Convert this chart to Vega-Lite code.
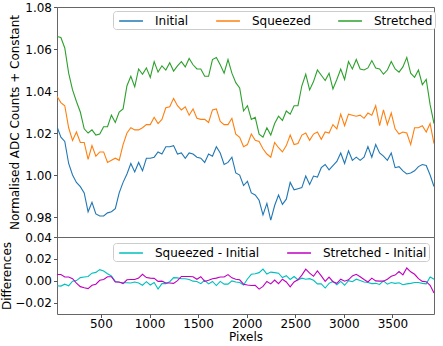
{
"$schema":"https://vega.github.io/schema/vega-lite/v6.json",
"autosize":{"type":"pad"},
"padding":{"left":0,"top":0,"right":0,"bottom":0},
"background":"white",
"spacing":0,
"bounds":"flush",
"config":{
"font":"DejaVu Sans",
"view":{"stroke":"#666666","strokeWidth":1},
"axis":{"grid":false,"domain":false,"labelFont":"DejaVu Sans","labelFontSize":12,"labelColor":"#000000","titleFont":"DejaVu Sans","titleFontSize":12,"titleFontWeight":"normal","titleColor":"#000000","tickColor":"#555555","tickSize":3.5,"labelPadding":2,"titlePadding":3},
"legend":{"orient":"none","direction":"horizontal","symbolType":"M-0.55,0H2.85","symbolSize":196,"symbolStrokeWidth":1.5,"labelFont":"DejaVu Sans","labelFontSize":12,"labelColor":"#000000","fillColor":"#ffffff","strokeColor":"#cccccc","cornerRadius":3,"padding":2,"columnPadding":23,"labelOffset":24}
},
"datasets":{
"top":[
{"px":48,"series":"Initial","value":1.0230},{"px":88,"series":"Initial","value":1.0180},{"px":128,"series":"Initial","value":1.0160},{"px":168,"series":"Initial","value":1.0055},{"px":208,"series":"Initial","value":1.0000},{"px":248,"series":"Initial","value":0.9965},{"px":288,"series":"Initial","value":0.9945},{"px":328,"series":"Initial","value":0.9915},{"px":368,"series":"Initial","value":0.9825},{"px":408,"series":"Initial","value":0.9870},
{"px":448,"series":"Initial","value":0.9815},{"px":488,"series":"Initial","value":0.9805},{"px":528,"series":"Initial","value":0.9805},{"px":568,"series":"Initial","value":0.9820},{"px":608,"series":"Initial","value":0.9825},{"px":648,"series":"Initial","value":0.9840},{"px":688,"series":"Initial","value":0.9915},{"px":728,"series":"Initial","value":0.9965},{"px":768,"series":"Initial","value":1.0005},{"px":808,"series":"Initial","value":1.0055},
{"px":848,"series":"Initial","value":1.0015},{"px":888,"series":"Initial","value":1.0060},{"px":928,"series":"Initial","value":1.0020},{"px":968,"series":"Initial","value":1.0080},{"px":1008,"series":"Initial","value":1.0080},{"px":1048,"series":"Initial","value":1.0085},{"px":1088,"series":"Initial","value":1.0110},{"px":1128,"series":"Initial","value":1.0100},{"px":1168,"series":"Initial","value":1.0135},{"px":1208,"series":"Initial","value":1.0135},
{"px":1248,"series":"Initial","value":1.0140},{"px":1288,"series":"Initial","value":1.0100},{"px":1328,"series":"Initial","value":1.0105},{"px":1368,"series":"Initial","value":1.0080},{"px":1408,"series":"Initial","value":1.0105},{"px":1448,"series":"Initial","value":1.0100},{"px":1488,"series":"Initial","value":1.0085},{"px":1528,"series":"Initial","value":1.0080},{"px":1568,"series":"Initial","value":1.0060},{"px":1608,"series":"Initial","value":1.0100},
{"px":1648,"series":"Initial","value":1.0090},{"px":1688,"series":"Initial","value":1.0135},{"px":1728,"series":"Initial","value":1.0105},{"px":1768,"series":"Initial","value":1.0050},{"px":1808,"series":"Initial","value":1.0060},{"px":1848,"series":"Initial","value":1.0085},{"px":1888,"series":"Initial","value":1.0010},{"px":1928,"series":"Initial","value":1.0000},{"px":1968,"series":"Initial","value":0.9950},{"px":2008,"series":"Initial","value":0.9970},
{"px":2048,"series":"Initial","value":0.9915},{"px":2088,"series":"Initial","value":0.9905},{"px":2128,"series":"Initial","value":0.9880},{"px":2168,"series":"Initial","value":0.9810},{"px":2208,"series":"Initial","value":0.9865},{"px":2248,"series":"Initial","value":0.9785},{"px":2288,"series":"Initial","value":0.9855},{"px":2328,"series":"Initial","value":0.9905},{"px":2368,"series":"Initial","value":0.9860},{"px":2408,"series":"Initial","value":0.9885},
{"px":2448,"series":"Initial","value":0.9965},{"px":2488,"series":"Initial","value":0.9930},{"px":2528,"series":"Initial","value":0.9935},{"px":2568,"series":"Initial","value":0.9940},{"px":2608,"series":"Initial","value":0.9995},{"px":2648,"series":"Initial","value":0.9955},{"px":2688,"series":"Initial","value":0.9995},{"px":2728,"series":"Initial","value":0.9990},{"px":2768,"series":"Initial","value":1.0035},{"px":2808,"series":"Initial","value":1.0050},
{"px":2848,"series":"Initial","value":1.0025},{"px":2888,"series":"Initial","value":1.0045},{"px":2928,"series":"Initial","value":1.0065},{"px":2968,"series":"Initial","value":1.0105},{"px":3008,"series":"Initial","value":1.0055},{"px":3048,"series":"Initial","value":1.0115},{"px":3088,"series":"Initial","value":1.0070},{"px":3128,"series":"Initial","value":1.0085},{"px":3168,"series":"Initial","value":1.0070},{"px":3208,"series":"Initial","value":1.0085},
{"px":3248,"series":"Initial","value":1.0135},{"px":3288,"series":"Initial","value":1.0085},{"px":3328,"series":"Initial","value":1.0145},{"px":3368,"series":"Initial","value":1.0105},{"px":3408,"series":"Initial","value":1.0090},{"px":3448,"series":"Initial","value":1.0070},{"px":3488,"series":"Initial","value":1.0105},{"px":3528,"series":"Initial","value":1.0035},{"px":3568,"series":"Initial","value":1.0040},{"px":3608,"series":"Initial","value":1.0020},
{"px":3648,"series":"Initial","value":1.0005},{"px":3688,"series":"Initial","value":1.0010},{"px":3728,"series":"Initial","value":1.0020},{"px":3768,"series":"Initial","value":1.0040},{"px":3808,"series":"Initial","value":1.0050},{"px":3848,"series":"Initial","value":1.0045},{"px":3888,"series":"Initial","value":1.0000},{"px":3928,"series":"Initial","value":0.9945},
{"px":48,"series":"Squeezed","value":1.0375},{"px":88,"series":"Squeezed","value":1.0345},{"px":128,"series":"Squeezed","value":1.0330},{"px":168,"series":"Squeezed","value":1.0225},{"px":208,"series":"Squeezed","value":1.0165},{"px":248,"series":"Squeezed","value":1.0205},{"px":288,"series":"Squeezed","value":1.0155},{"px":328,"series":"Squeezed","value":1.0155},{"px":368,"series":"Squeezed","value":1.0075},{"px":408,"series":"Squeezed","value":1.0140},
{"px":448,"series":"Squeezed","value":1.0090},{"px":488,"series":"Squeezed","value":1.0110},{"px":528,"series":"Squeezed","value":1.0110},{"px":568,"series":"Squeezed","value":1.0060},{"px":608,"series":"Squeezed","value":1.0070},{"px":648,"series":"Squeezed","value":1.0080},{"px":688,"series":"Squeezed","value":1.0070},{"px":728,"series":"Squeezed","value":1.0145},{"px":768,"series":"Squeezed","value":1.0200},{"px":808,"series":"Squeezed","value":1.0225},
{"px":848,"series":"Squeezed","value":1.0215},{"px":888,"series":"Squeezed","value":1.0215},{"px":928,"series":"Squeezed","value":1.0225},{"px":968,"series":"Squeezed","value":1.0240},{"px":1008,"series":"Squeezed","value":1.0240},{"px":1048,"series":"Squeezed","value":1.0275},{"px":1088,"series":"Squeezed","value":1.0245},{"px":1128,"series":"Squeezed","value":1.0265},{"px":1168,"series":"Squeezed","value":1.0320},{"px":1208,"series":"Squeezed","value":1.0325},
{"px":1248,"series":"Squeezed","value":1.0365},{"px":1288,"series":"Squeezed","value":1.0330},{"px":1328,"series":"Squeezed","value":1.0310},{"px":1368,"series":"Squeezed","value":1.0325},{"px":1408,"series":"Squeezed","value":1.0285},{"px":1448,"series":"Squeezed","value":1.0315},{"px":1488,"series":"Squeezed","value":1.0270},{"px":1528,"series":"Squeezed","value":1.0265},{"px":1568,"series":"Squeezed","value":1.0265},{"px":1608,"series":"Squeezed","value":1.0250},
{"px":1648,"series":"Squeezed","value":1.0310},{"px":1688,"series":"Squeezed","value":1.0315},{"px":1728,"series":"Squeezed","value":1.0255},{"px":1768,"series":"Squeezed","value":1.0240},{"px":1808,"series":"Squeezed","value":1.0240},{"px":1848,"series":"Squeezed","value":1.0270},{"px":1888,"series":"Squeezed","value":1.0195},{"px":1928,"series":"Squeezed","value":1.0180},{"px":1968,"series":"Squeezed","value":1.0135},{"px":2008,"series":"Squeezed","value":1.0145},
{"px":2048,"series":"Squeezed","value":1.0195},{"px":2088,"series":"Squeezed","value":1.0165},{"px":2128,"series":"Squeezed","value":1.0160},{"px":2168,"series":"Squeezed","value":1.0125},{"px":2208,"series":"Squeezed","value":1.0100},{"px":2248,"series":"Squeezed","value":1.0085},{"px":2288,"series":"Squeezed","value":1.0155},{"px":2328,"series":"Squeezed","value":1.0130},{"px":2368,"series":"Squeezed","value":1.0110},{"px":2408,"series":"Squeezed","value":1.0140},
{"px":2448,"series":"Squeezed","value":1.0190},{"px":2488,"series":"Squeezed","value":1.0145},{"px":2528,"series":"Squeezed","value":1.0150},{"px":2568,"series":"Squeezed","value":1.0190},{"px":2608,"series":"Squeezed","value":1.0200},{"px":2648,"series":"Squeezed","value":1.0165},{"px":2688,"series":"Squeezed","value":1.0195},{"px":2728,"series":"Squeezed","value":1.0205},{"px":2768,"series":"Squeezed","value":1.0170},{"px":2808,"series":"Squeezed","value":1.0205},
{"px":2848,"series":"Squeezed","value":1.0200},{"px":2888,"series":"Squeezed","value":1.0240},{"px":2928,"series":"Squeezed","value":1.0220},{"px":2968,"series":"Squeezed","value":1.0290},{"px":3008,"series":"Squeezed","value":1.0235},{"px":3048,"series":"Squeezed","value":1.0290},{"px":3088,"series":"Squeezed","value":1.0285},{"px":3128,"series":"Squeezed","value":1.0280},{"px":3168,"series":"Squeezed","value":1.0285},{"px":3208,"series":"Squeezed","value":1.0270},
{"px":3248,"series":"Squeezed","value":1.0295},{"px":3288,"series":"Squeezed","value":1.0285},{"px":3328,"series":"Squeezed","value":1.0330},{"px":3368,"series":"Squeezed","value":1.0235},{"px":3408,"series":"Squeezed","value":1.0310},{"px":3448,"series":"Squeezed","value":1.0240},{"px":3488,"series":"Squeezed","value":1.0295},{"px":3528,"series":"Squeezed","value":1.0220},{"px":3568,"series":"Squeezed","value":1.0195},{"px":3608,"series":"Squeezed","value":1.0205},
{"px":3648,"series":"Squeezed","value":1.0200},{"px":3688,"series":"Squeezed","value":1.0145},{"px":3728,"series":"Squeezed","value":1.0225},{"px":3768,"series":"Squeezed","value":1.0225},{"px":3808,"series":"Squeezed","value":1.0235},{"px":3848,"series":"Squeezed","value":1.0205},{"px":3888,"series":"Squeezed","value":1.0245},{"px":3928,"series":"Squeezed","value":1.0150},
{"px":48,"series":"Stretched","value":1.0660},{"px":88,"series":"Stretched","value":1.0655},{"px":128,"series":"Stretched","value":1.0605},{"px":168,"series":"Stretched","value":1.0485},{"px":208,"series":"Stretched","value":1.0405},{"px":248,"series":"Stretched","value":1.0350},{"px":288,"series":"Stretched","value":1.0300},{"px":328,"series":"Stretched","value":1.0220},{"px":368,"series":"Stretched","value":1.0200},{"px":408,"series":"Stretched","value":1.0215},
{"px":448,"series":"Stretched","value":1.0190},{"px":488,"series":"Stretched","value":1.0195},{"px":528,"series":"Stretched","value":1.0230},{"px":568,"series":"Stretched","value":1.0230},{"px":608,"series":"Stretched","value":1.0285},{"px":648,"series":"Stretched","value":1.0250},{"px":688,"series":"Stretched","value":1.0300},{"px":728,"series":"Stretched","value":1.0315},{"px":768,"series":"Stretched","value":1.0425},{"px":808,"series":"Stretched","value":1.0470},
{"px":848,"series":"Stretched","value":1.0420},{"px":888,"series":"Stretched","value":1.0505},{"px":928,"series":"Stretched","value":1.0480},{"px":968,"series":"Stretched","value":1.0510},{"px":1008,"series":"Stretched","value":1.0465},{"px":1048,"series":"Stretched","value":1.0540},{"px":1088,"series":"Stretched","value":1.0490},{"px":1128,"series":"Stretched","value":1.0520},{"px":1168,"series":"Stretched","value":1.0500},{"px":1208,"series":"Stretched","value":1.0535},
{"px":1248,"series":"Stretched","value":1.0495},{"px":1288,"series":"Stretched","value":1.0520},{"px":1328,"series":"Stretched","value":1.0540},{"px":1368,"series":"Stretched","value":1.0515},{"px":1408,"series":"Stretched","value":1.0555},{"px":1448,"series":"Stretched","value":1.0525},{"px":1488,"series":"Stretched","value":1.0505},{"px":1528,"series":"Stretched","value":1.0505},{"px":1568,"series":"Stretched","value":1.0470},{"px":1608,"series":"Stretched","value":1.0470},
{"px":1648,"series":"Stretched","value":1.0550},{"px":1688,"series":"Stretched","value":1.0560},{"px":1728,"series":"Stretched","value":1.0525},{"px":1768,"series":"Stretched","value":1.0485},{"px":1808,"series":"Stretched","value":1.0550},{"px":1848,"series":"Stretched","value":1.0485},{"px":1888,"series":"Stretched","value":1.0440},{"px":1928,"series":"Stretched","value":1.0415},{"px":1968,"series":"Stretched","value":1.0305},{"px":2008,"series":"Stretched","value":1.0330},
{"px":2048,"series":"Stretched","value":1.0265},{"px":2088,"series":"Stretched","value":1.0275},{"px":2128,"series":"Stretched","value":1.0195},{"px":2168,"series":"Stretched","value":1.0180},{"px":2208,"series":"Stretched","value":1.0225},{"px":2248,"series":"Stretched","value":1.0190},{"px":2288,"series":"Stretched","value":1.0245},{"px":2328,"series":"Stretched","value":1.0280},{"px":2368,"series":"Stretched","value":1.0260},{"px":2408,"series":"Stretched","value":1.0305},
{"px":2448,"series":"Stretched","value":1.0290},{"px":2488,"series":"Stretched","value":1.0330},{"px":2528,"series":"Stretched","value":1.0330},{"px":2568,"series":"Stretched","value":1.0425},{"px":2608,"series":"Stretched","value":1.0480},{"px":2648,"series":"Stretched","value":1.0405},{"px":2688,"series":"Stretched","value":1.0445},{"px":2728,"series":"Stretched","value":1.0500},{"px":2768,"series":"Stretched","value":1.0475},{"px":2808,"series":"Stretched","value":1.0450},
{"px":2848,"series":"Stretched","value":1.0485},{"px":2888,"series":"Stretched","value":1.0410},{"px":2928,"series":"Stretched","value":1.0455},{"px":2968,"series":"Stretched","value":1.0505},{"px":3008,"series":"Stretched","value":1.0455},{"px":3048,"series":"Stretched","value":1.0540},{"px":3088,"series":"Stretched","value":1.0505},{"px":3128,"series":"Stretched","value":1.0550},{"px":3168,"series":"Stretched","value":1.0505},{"px":3208,"series":"Stretched","value":1.0500},
{"px":3248,"series":"Stretched","value":1.0510},{"px":3288,"series":"Stretched","value":1.0545},{"px":3328,"series":"Stretched","value":1.0510},{"px":3368,"series":"Stretched","value":1.0505},{"px":3408,"series":"Stretched","value":1.0480},{"px":3448,"series":"Stretched","value":1.0500},{"px":3488,"series":"Stretched","value":1.0540},{"px":3528,"series":"Stretched","value":1.0505},{"px":3568,"series":"Stretched","value":1.0490},{"px":3608,"series":"Stretched","value":1.0515},
{"px":3648,"series":"Stretched","value":1.0560},{"px":3688,"series":"Stretched","value":1.0485},{"px":3728,"series":"Stretched","value":1.0465},{"px":3768,"series":"Stretched","value":1.0500},{"px":3808,"series":"Stretched","value":1.0430},{"px":3848,"series":"Stretched","value":1.0455},{"px":3888,"series":"Stretched","value":1.0335},{"px":3928,"series":"Stretched","value":1.0245}
],
"diff":[
{"px":48,"series":"Squeezed - Initial","value":-0.0045},{"px":88,"series":"Squeezed - Initial","value":-0.00475},{"px":128,"series":"Squeezed - Initial","value":-0.0030},{"px":168,"series":"Squeezed - Initial","value":-0.0045},{"px":208,"series":"Squeezed - Initial","value":-0.00025},{"px":248,"series":"Squeezed - Initial","value":0.00025},{"px":288,"series":"Squeezed - Initial","value":0.0030},{"px":328,"series":"Squeezed - Initial","value":0.0035},{"px":368,"series":"Squeezed - Initial","value":0.0040},{"px":408,"series":"Squeezed - Initial","value":0.0070},
{"px":448,"series":"Squeezed - Initial","value":0.00775},{"px":488,"series":"Squeezed - Initial","value":0.01025},{"px":528,"series":"Squeezed - Initial","value":0.0090},{"px":568,"series":"Squeezed - Initial","value":0.0065},{"px":608,"series":"Squeezed - Initial","value":0.0045},{"px":648,"series":"Squeezed - Initial","value":-0.0005},{"px":688,"series":"Squeezed - Initial","value":-0.00125},{"px":728,"series":"Squeezed - Initial","value":-0.00175},{"px":768,"series":"Squeezed - Initial","value":-0.00175},{"px":808,"series":"Squeezed - Initial","value":-0.0020},
{"px":848,"series":"Squeezed - Initial","value":-0.0010},{"px":888,"series":"Squeezed - Initial","value":-0.0020},{"px":928,"series":"Squeezed - Initial","value":-0.0040},{"px":968,"series":"Squeezed - Initial","value":-0.00075},{"px":1008,"series":"Squeezed - Initial","value":-0.00375},{"px":1048,"series":"Squeezed - Initial","value":-0.0015},{"px":1088,"series":"Squeezed - Initial","value":-0.0075},{"px":1128,"series":"Squeezed - Initial","value":-0.0025},{"px":1168,"series":"Squeezed - Initial","value":-0.0025},{"px":1208,"series":"Squeezed - Initial","value":-0.00075},
{"px":1248,"series":"Squeezed - Initial","value":0.0030},{"px":1288,"series":"Squeezed - Initial","value":0.00275},{"px":1328,"series":"Squeezed - Initial","value":0.0020},{"px":1368,"series":"Squeezed - Initial","value":0.0020},{"px":1408,"series":"Squeezed - Initial","value":0.00125},{"px":1448,"series":"Squeezed - Initial","value":-0.00025},{"px":1488,"series":"Squeezed - Initial","value":-0.0005},{"px":1528,"series":"Squeezed - Initial","value":-0.0025},{"px":1568,"series":"Squeezed - Initial","value":0.0005},{"px":1608,"series":"Squeezed - Initial","value":-0.00275},
{"px":1648,"series":"Squeezed - Initial","value":-0.0005},{"px":1688,"series":"Squeezed - Initial","value":-0.00425},{"px":1728,"series":"Squeezed - Initial","value":-0.0005},{"px":1768,"series":"Squeezed - Initial","value":-0.0030},{"px":1808,"series":"Squeezed - Initial","value":-0.0030},{"px":1848,"series":"Squeezed - Initial","value":0.0000},{"px":1888,"series":"Squeezed - Initial","value":-0.0010},{"px":1928,"series":"Squeezed - Initial","value":-0.0015},{"px":1968,"series":"Squeezed - Initial","value":-0.00375},{"px":2008,"series":"Squeezed - Initial","value":0.00175},
{"px":2048,"series":"Squeezed - Initial","value":0.0060},{"px":2088,"series":"Squeezed - Initial","value":0.0065},{"px":2128,"series":"Squeezed - Initial","value":0.0075},{"px":2168,"series":"Squeezed - Initial","value":0.01075},{"px":2208,"series":"Squeezed - Initial","value":0.00625},{"px":2248,"series":"Squeezed - Initial","value":0.0080},{"px":2288,"series":"Squeezed - Initial","value":0.0075},{"px":2328,"series":"Squeezed - Initial","value":0.0070},{"px":2368,"series":"Squeezed - Initial","value":0.0030},{"px":2408,"series":"Squeezed - Initial","value":0.00475},
{"px":2448,"series":"Squeezed - Initial","value":0.00125},{"px":2488,"series":"Squeezed - Initial","value":0.0040},{"px":2528,"series":"Squeezed - Initial","value":0.0010},{"px":2568,"series":"Squeezed - Initial","value":0.0025},{"px":2608,"series":"Squeezed - Initial","value":0.0015},{"px":2648,"series":"Squeezed - Initial","value":0.0020},{"px":2688,"series":"Squeezed - Initial","value":0.0005},{"px":2728,"series":"Squeezed - Initial","value":-0.00275},{"px":2768,"series":"Squeezed - Initial","value":-0.00275},{"px":2808,"series":"Squeezed - Initial","value":-0.0065},
{"px":2848,"series":"Squeezed - Initial","value":-0.00225},{"px":2888,"series":"Squeezed - Initial","value":-0.0005},{"px":2928,"series":"Squeezed - Initial","value":-0.0035},{"px":2968,"series":"Squeezed - Initial","value":-0.0005},{"px":3008,"series":"Squeezed - Initial","value":-0.0040},{"px":3048,"series":"Squeezed - Initial","value":0.00025},{"px":3088,"series":"Squeezed - Initial","value":-0.00075},{"px":3128,"series":"Squeezed - Initial","value":0.0015},{"px":3168,"series":"Squeezed - Initial","value":0.00025},{"px":3208,"series":"Squeezed - Initial","value":-0.0010},
{"px":3248,"series":"Squeezed - Initial","value":-0.0015},{"px":3288,"series":"Squeezed - Initial","value":-0.0025},{"px":3328,"series":"Squeezed - Initial","value":-0.00225},{"px":3368,"series":"Squeezed - Initial","value":-0.00325},{"px":3408,"series":"Squeezed - Initial","value":0.0000},{"px":3448,"series":"Squeezed - Initial","value":-0.0030},{"px":3488,"series":"Squeezed - Initial","value":-0.0015},{"px":3528,"series":"Squeezed - Initial","value":-0.00225},{"px":3568,"series":"Squeezed - Initial","value":-0.00175},{"px":3608,"series":"Squeezed - Initial","value":-0.0035},
{"px":3648,"series":"Squeezed - Initial","value":-0.00275},{"px":3688,"series":"Squeezed - Initial","value":-0.00225},{"px":3728,"series":"Squeezed - Initial","value":-0.0015},{"px":3768,"series":"Squeezed - Initial","value":-0.0015},{"px":3808,"series":"Squeezed - Initial","value":-0.00225},{"px":3848,"series":"Squeezed - Initial","value":-0.00275},{"px":3888,"series":"Squeezed - Initial","value":0.0035},{"px":3928,"series":"Squeezed - Initial","value":0.0015},
{"px":48,"series":"Stretched - Initial","value":0.00575},{"px":88,"series":"Stretched - Initial","value":0.00575},{"px":128,"series":"Stretched - Initial","value":0.0035},{"px":168,"series":"Stretched - Initial","value":0.0035},{"px":208,"series":"Stretched - Initial","value":0.0020},{"px":248,"series":"Stretched - Initial","value":-0.0020},{"px":288,"series":"Stretched - Initial","value":-0.00525},{"px":328,"series":"Stretched - Initial","value":-0.00625},{"px":368,"series":"Stretched - Initial","value":-0.0070},{"px":408,"series":"Stretched - Initial","value":-0.0040},
{"px":448,"series":"Stretched - Initial","value":-0.0030},{"px":488,"series":"Stretched - Initial","value":0.0005},{"px":528,"series":"Stretched - Initial","value":0.00125},{"px":568,"series":"Stretched - Initial","value":0.00375},{"px":608,"series":"Stretched - Initial","value":0.00375},{"px":648,"series":"Stretched - Initial","value":-0.0010},{"px":688,"series":"Stretched - Initial","value":-0.0010},{"px":728,"series":"Stretched - Initial","value":-0.0025},{"px":768,"series":"Stretched - Initial","value":0.0010},{"px":808,"series":"Stretched - Initial","value":0.00125},
{"px":848,"series":"Stretched - Initial","value":0.00125},{"px":888,"series":"Stretched - Initial","value":0.0025},{"px":928,"series":"Stretched - Initial","value":0.0060},{"px":968,"series":"Stretched - Initial","value":0.0030},{"px":1008,"series":"Stretched - Initial","value":0.0025},{"px":1048,"series":"Stretched - Initial","value":0.00225},{"px":1088,"series":"Stretched - Initial","value":-0.0005},{"px":1128,"series":"Stretched - Initial","value":-0.00025},{"px":1168,"series":"Stretched - Initial","value":-0.0020},{"px":1208,"series":"Stretched - Initial","value":-0.0020},
{"px":1248,"series":"Stretched - Initial","value":-0.00225},{"px":1288,"series":"Stretched - Initial","value":0.00025},{"px":1328,"series":"Stretched - Initial","value":0.0040},{"px":1368,"series":"Stretched - Initial","value":0.0040},{"px":1408,"series":"Stretched - Initial","value":0.0040},{"px":1448,"series":"Stretched - Initial","value":0.00375},{"px":1488,"series":"Stretched - Initial","value":0.0015},{"px":1528,"series":"Stretched - Initial","value":0.00375},{"px":1568,"series":"Stretched - Initial","value":-0.0005},{"px":1608,"series":"Stretched - Initial","value":0.0005},
{"px":1648,"series":"Stretched - Initial","value":0.0020},{"px":1688,"series":"Stretched - Initial","value":0.0025},{"px":1728,"series":"Stretched - Initial","value":0.0035},{"px":1768,"series":"Stretched - Initial","value":0.0035},{"px":1808,"series":"Stretched - Initial","value":0.00575},{"px":1848,"series":"Stretched - Initial","value":0.00275},{"px":1888,"series":"Stretched - Initial","value":0.0015},{"px":1928,"series":"Stretched - Initial","value":0.0010},{"px":1968,"series":"Stretched - Initial","value":-0.0030},{"px":2008,"series":"Stretched - Initial","value":-0.00375},
{"px":2048,"series":"Stretched - Initial","value":-0.00425},{"px":2088,"series":"Stretched - Initial","value":-0.0040},{"px":2128,"series":"Stretched - Initial","value":-0.0075},{"px":2168,"series":"Stretched - Initial","value":-0.0050},{"px":2208,"series":"Stretched - Initial","value":-0.0005},{"px":2248,"series":"Stretched - Initial","value":-0.00275},{"px":2288,"series":"Stretched - Initial","value":0.00075},{"px":2328,"series":"Stretched - Initial","value":-0.0025},{"px":2368,"series":"Stretched - Initial","value":0.0015},{"px":2408,"series":"Stretched - Initial","value":-0.0010},
{"px":2448,"series":"Stretched - Initial","value":-0.0055},{"px":2488,"series":"Stretched - Initial","value":-0.0010},{"px":2528,"series":"Stretched - Initial","value":0.0010},{"px":2568,"series":"Stretched - Initial","value":0.00525},{"px":2608,"series":"Stretched - Initial","value":0.01075},{"px":2648,"series":"Stretched - Initial","value":0.0070},{"px":2688,"series":"Stretched - Initial","value":0.00425},{"px":2728,"series":"Stretched - Initial","value":0.0090},{"px":2768,"series":"Stretched - Initial","value":0.0045},{"px":2808,"series":"Stretched - Initial","value":-0.0005},
{"px":2848,"series":"Stretched - Initial","value":0.0035},{"px":2888,"series":"Stretched - Initial","value":-0.00075},{"px":2928,"series":"Stretched - Initial","value":-0.00225},{"px":2968,"series":"Stretched - Initial","value":0.0015},{"px":3008,"series":"Stretched - Initial","value":-0.00025},{"px":3048,"series":"Stretched - Initial","value":0.0010},{"px":3088,"series":"Stretched - Initial","value":0.0045},{"px":3128,"series":"Stretched - Initial","value":0.0060},{"px":3168,"series":"Stretched - Initial","value":0.00375},{"px":3208,"series":"Stretched - Initial","value":0.00125},
{"px":3248,"series":"Stretched - Initial","value":-0.0010},{"px":3288,"series":"Stretched - Initial","value":0.0025},{"px":3328,"series":"Stretched - Initial","value":0.0000},{"px":3368,"series":"Stretched - Initial","value":-0.00025},{"px":3408,"series":"Stretched - Initial","value":-0.00025},{"px":3448,"series":"Stretched - Initial","value":0.0015},{"px":3488,"series":"Stretched - Initial","value":0.00425},{"px":3528,"series":"Stretched - Initial","value":0.00525},{"px":3568,"series":"Stretched - Initial","value":0.0085},{"px":3608,"series":"Stretched - Initial","value":0.0055},
{"px":3648,"series":"Stretched - Initial","value":0.01175},{"px":3688,"series":"Stretched - Initial","value":0.00825},{"px":3728,"series":"Stretched - Initial","value":0.0060},{"px":3768,"series":"Stretched - Initial","value":0.0020},{"px":3808,"series":"Stretched - Initial","value":-0.0005},{"px":3848,"series":"Stretched - Initial","value":-0.00075},{"px":3888,"series":"Stretched - Initial","value":-0.0040},{"px":3928,"series":"Stretched - Initial","value":-0.0110}
]
},
"vconcat":[
{"width":377,"height":230,"data":{"name":"top"},
"mark":{"type":"line","strokeWidth":1.1,"clip":true},
"encoding":{
"x":{"field":"px","type":"quantitative","scale":{"domain":[48,3928],"nice":false,"zero":false},"axis":null},
"y":{"field":"value","type":"quantitative","scale":{"domain":[0.9705,1.08],"nice":false,"zero":false},"axis":{"title":"Normalised ADC Counts + Constant","values":[0.98,1.0,1.02,1.04,1.06,1.08],"format":".2f"}},
"color":{"field":"series","type":"nominal","scale":{"domain":["Initial","Squeezed","Stretched"],"range":["#1f77b4","#ff7f0e","#2ca02c"]},"legend":{"title":null,"legendX":56,"legendY":4}}
}},
{"width":377,"height":77,"data":{"name":"diff"},
"mark":{"type":"line","strokeWidth":1.1,"clip":true},
"encoding":{
"x":{"field":"px","type":"quantitative","scale":{"domain":[48,3928],"nice":false,"zero":false},"axis":{"title":"Pixels","values":[500,1000,1500,2000,2500,3000,3500],"format":"d","labelPadding":1,"titlePadding":2}},
"y":{"field":"value","type":"quantitative","scale":{"domain":[-0.0302,0.04],"nice":false,"zero":false},"axis":{"title":"Differences","values":[-0.02,0,0.02,0.04],"format":".2f","titlePadding":1}},
"color":{"field":"series","type":"nominal","scale":{"domain":["Squeezed - Initial","Stretched - Initial"],"range":["#00bfbf","#bf00bf"]},"legend":{"title":null,"legendX":56,"legendY":6}}
}}
],
"resolve":{"scale":{"color":"independent","x":"independent","y":"independent"},"legend":{"color":"independent"}}
}
